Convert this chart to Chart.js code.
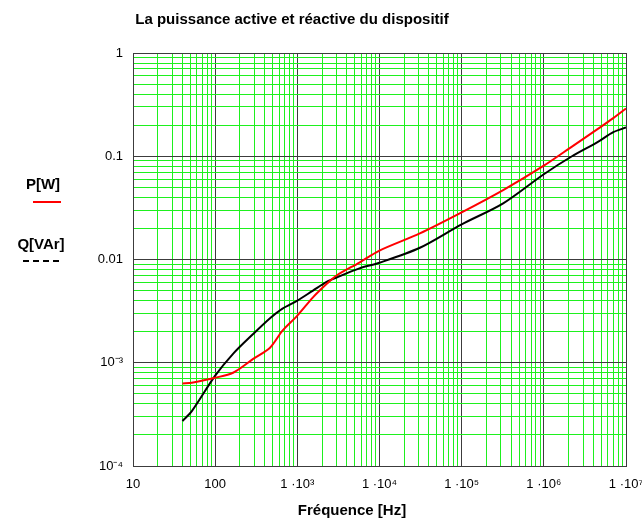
<!DOCTYPE html>
<html>
<head>
<meta charset="utf-8">
<script src="https://cdn.jsdelivr.net/npm/chart.js@4/dist/chart.umd.min.js"></script>
<style>
  body { margin: 0; background: #fff; }
</style>
</head>
<body>
<canvas id="myChart" width="642" height="520"></canvas>
<script>
// frequencies in Hz, shared by both curves
const freq = [40, 52, 100, 165, 290, 465, 660, 1000, 1550, 2300, 3000, 5700,
  1e4, 3.1e4, 1e5, 3.2e5, 1e6, 2.2e6, 4.5e6, 7e6, 1e7];
// active power P [W]
const powerP = [6.3e-4, 6.4e-4, 7.15e-4, 8.0e-4, 1.09e-3, 1.4e-3, 2.05e-3, 2.86e-3, 4.3e-3, 5.85e-3, 7.0e-3, 9.35e-3,
  0.0122, 0.0179, 0.0286, 0.047, 0.081, 0.124, 0.183, 0.234, 0.29];
// reactive power Q [VAr]
const powerQ = [2.73e-4, 3.4e-4, 7.5e-4, 1.22e-3, 1.9e-3, 2.7e-3, 3.35e-3, 4.0e-3, 5.0e-3, 6.1e-3, 6.7e-3, 8.2e-3,
  9.3e-3, 0.013, 0.0219, 0.035, 0.067, 0.1, 0.137, 0.171, 0.19];

const xTickValues = [10, 100, 1e3, 1e4, 1e5, 1e6, 1e7];
const xTickLabels = ['10', '100', '1 ·10³', '1 ·10⁴', '1 ·10⁵', '1 ·10⁶', '1 ·10⁷'];
const yTickValues = [1e-4, 1e-3, 0.01, 0.1, 1];
const yTickLabels = ['10⁻⁴', '10⁻³', '0.01', '0.1', '1'];

const title = 'La puissance active et réactive du dispositif';
const xTitle = 'Fréquence [Hz]';
const legendP = 'P[W]';
const legendQ = 'Q[VAr]';

const FONT = '"Liberation Sans", Arial, sans-serif';

function pick(values, labels, v) {
  const i = values.findIndex(t => Math.abs(t - v) / t < 1e-6);
  return i < 0 ? '' : labels[i];
}
function isDecade(v) {
  const l = Math.log10(v);
  return Math.abs(l - Math.round(l)) < 1e-6;
}
function gridColor(ctx) {
  if (!ctx.tick) return '#3c3c3c';
  return isDecade(ctx.tick.value) ? '#3c3c3c' : '#1ef01e';
}
// 1..9 times every decade between the first and last decade
function logTicks(decades) {
  const out = [];
  decades.forEach((d, i) => {
    const last = i === decades.length - 1;
    for (let m = 1; m <= (last ? 1 : 9); m++) out.push({ value: m * d });
  });
  return out;
}

const textPlugin = {
  id: 'texts',
  afterDraw(chart) {
    const c = chart.ctx;
    c.save();
    c.fillStyle = '#000';
    c.textAlign = 'center';
    c.textBaseline = 'middle';
    c.font = 'bold 15px ' + FONT;
    c.fillText(title, 292, 20);
    c.fillText(xTitle, 352, 511);
    // legend on the left
    c.fillText(legendP, 43, 185);
    c.fillText(legendQ, 41, 245);
    c.strokeStyle = '#ff0000';
    c.lineWidth = 2;
    c.beginPath(); c.moveTo(33, 202); c.lineTo(61, 202); c.stroke();
    c.strokeStyle = '#000';
    c.setLineDash([6, 4]);
    c.beginPath(); c.moveTo(23, 261); c.lineTo(62, 261); c.stroke();
    c.restore();
  }
};

const data = {
  datasets: [{
    label: legendP,
    data: freq.map((f, i) => ({ x: f, y: powerP[i] })),
    borderColor: '#ff0000',
    borderWidth: 2,
    pointRadius: 0,
    tension: 0.3
  }, {
    label: legendQ,
    data: freq.map((f, i) => ({ x: f, y: powerQ[i] })),
    borderColor: '#000000',
    borderWidth: 2,
    pointRadius: 0,
    tension: 0.3
  }]
};

const config = {
  type: 'scatter',
  data: data,
  plugins: [textPlugin],
  options: {
    responsive: false,
    animation: false,
    showLine: true,
    layout: { padding: { left: 0, right: 16, top: 53, bottom: 14 } },
    plugins: {
      legend: { display: false },
      tooltip: { enabled: false }
    },
    scales: {
      x: {
        type: 'logarithmic',
        min: 10,
        max: 1e7,
        afterBuildTicks(s) { s.ticks = logTicks(xTickValues); },
        afterFit(s) { s.height = 40; s.paddingLeft = 0; s.paddingRight = 0; },
        border: { color: '#3c3c3c', width: 1 },
        grid: { color: gridColor, lineWidth: 1, drawTicks: false },
        ticks: {
          autoSkip: false,
          maxRotation: 0,
          padding: 11,
          color: '#000',
          font: { family: FONT, size: 13 },
          callback: v => pick(xTickValues, xTickLabels, v)
        }
      },
      y: {
        type: 'logarithmic',
        min: 1e-4,
        max: 1,
        afterBuildTicks(s) { s.ticks = logTicks(yTickValues); },
        afterFit(s) { s.width = 133; s.paddingTop = 0; s.paddingBottom = 0; },
        border: { color: '#3c3c3c', width: 1 },
        grid: { color: gridColor, lineWidth: 1, drawTicks: false },
        ticks: {
          autoSkip: false,
          padding: 10,
          color: '#000',
          font: { family: FONT, size: 13 },
          callback: v => pick(yTickValues, yTickLabels, v)
        }
      }
    }
  }
};

let myChart = new Chart(document.getElementById('myChart'), config);
</script>
</body>
</html>
